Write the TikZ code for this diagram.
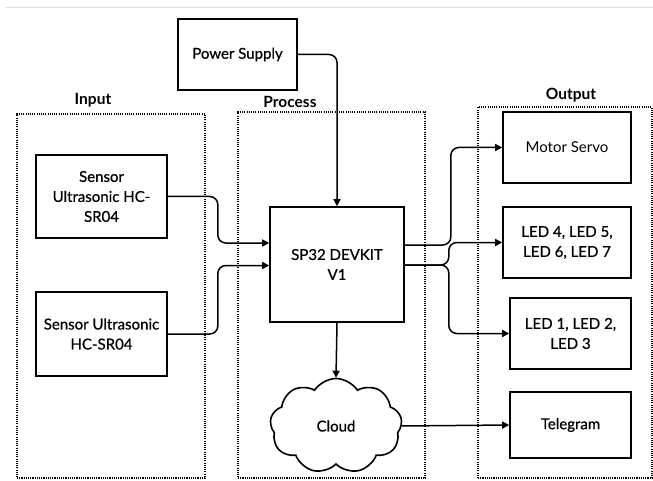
\documentclass[tikz,border=0pt]{standalone}
\usepackage{fontspec}
\setmainfont{Lato}
\usetikzlibrary{arrows.meta,shapes.symbols}
\begin{document}
\begin{tikzpicture}[x=1pt,y=-1pt,
  every node/.style={font=\fontsize{15}{20}\selectfont\addfontfeature{FakeBold=0.7}},
  box/.style={draw,line width=1.6pt,align=center,inner sep=0pt},
  group/.style={draw,line width=1.3pt,dash pattern=on 1.1pt off 1.1pt,inner sep=0pt},
  head/.style={font=\fontsize{15.5}{18}\selectfont\bfseries},
  arr/.style={line width=1.5pt,rounded corners=8pt,-{Triangle[length=7pt,width=7pt]}},
  topline/.style={draw=blue!10!gray!25,line width=1pt}]
\useasboundingbox (0,0) rectangle (653,481);
\draw[topline] (6,8) -- (653,8);
% groups
\node[group,minimum width=188pt,minimum height=364pt] (gin) at (111,296) {};
\node[group,minimum width=187pt,minimum height=366pt] (gpr) at (331.5,295) {};
\node[group,minimum width=174pt,minimum height=371pt] (gout) at (565,292.5) {};
\node[head] (lin) at (93,100) {Input};
\node[head] (lpr) at (290,102) {Process};
\node[head] (lout) at (571,95) {Output};
% boxes
\node[box,minimum width=119pt,minimum height=71pt] (power) at (237.5,54.5) {Power Supply};
\node[box,minimum width=131pt,minimum height=83pt] (s1) at (101.5,196.5) {Sensor\\Ultrasonic HC-\\SR04};
\node[box,minimum width=131pt,minimum height=84pt] (s2) at (101.5,334) {Sensor Ultrasonic\\HC-SR04};
\node[box,minimum width=134pt,minimum height=115pt] (sp) at (337,264.5) {SP32 DEVKIT\\V1};
\node[box,minimum width=128pt,minimum height=71pt,font=\fontsize{15}{20}\selectfont] (motor) at (567,147.5) {Motor Servo};
\node[box,minimum width=128pt,minimum height=71pt] (led47) at (567,242.5) {LED 4, LED 5,\\LED 6, LED 7};
\node[box,minimum width=121pt,minimum height=71pt] (led13) at (570.5,333.5) {LED 1, LED 2,\\LED 3};
\node[box,minimum width=121pt,minimum height=66pt] (tele) at (570.5,425) {Telegram};
\node[cloud,draw,line width=1.6pt,cloud puffs=9,cloud puff arc=115,aspect=1.45,
      minimum width=132pt,minimum height=95pt,inner sep=0pt] (cloud) at (336,426) {Cloud};
% connectors
\draw[arr] (power.east) -| (sp.north);
\draw[arr] (s1.east) -- ++(50,0) |- ([yshift=21.5pt]sp.west);
\draw[arr] (s2.east) -- ++(50,0) |- ([yshift=-1pt]sp.west);
\draw[arr] ([yshift=19.5pt]sp.east) -- ++(46,0) |- (motor.west);
\draw[arr] ([yshift=-0.5pt]sp.east) -- ++(44,0) |- (led47.west);
\draw[arr] ([yshift=-0.5pt]sp.east) -- ++(44,0) |- (led13.west);
\draw[arr] (sp.south) -- (cloud.north);
\draw[arr] (cloud.east) -- (tele.west);
\end{tikzpicture}
\end{document}
